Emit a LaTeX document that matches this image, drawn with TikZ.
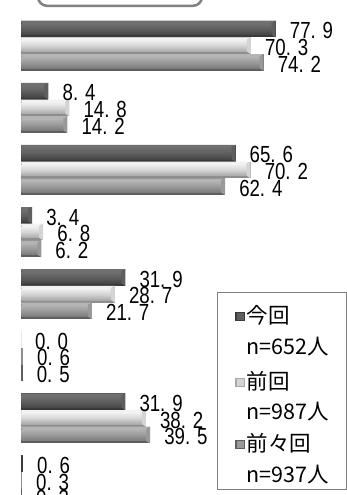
\documentclass[tikz,border=0pt]{standalone}
\usepackage{fontspec}
\setmainfont{Liberation Sans}
\newfontfamily\jp{Noto Sans CJK JP}
\usepackage{graphicx}
\definecolor{aedge}{HTML}{3A3A3A}\definecolor{atop}{HTML}{707070}\definecolor{amid}{HTML}{5E5E5E}\definecolor{abot}{HTML}{454545}
\definecolor{bedge}{HTML}{8E8E8E}\definecolor{btop}{HTML}{F2F2F2}\definecolor{bmid}{HTML}{D4D4D4}\definecolor{bbot}{HTML}{A8A8A8}
\definecolor{cedge}{HTML}{5E5E5E}\definecolor{ctop}{HTML}{B4B4B4}\definecolor{cmid}{HTML}{999999}\definecolor{cbot}{HTML}{7A7A7A}
\definecolor{frame}{HTML}{808080}
\newcommand\mybar[3]{%
  \pgfmathsetmacro\xe{21+3.27*#2}%
  \pgfmathsetmacro\yb{#1+16.7}%
  \fill[#3edge] (21,#1) rectangle (\xe,\yb);
  \pgfmathparse{(\xe>30)?1:0}%
  \ifnum\pgfmathresult=1
    \shade[top color=#3top, bottom color=#3bot, middle color=#3mid] (21.5,#1+2.5) rectangle (\xe-4,\yb-2.5);
    \fill[#3top] (21,#1) -- (\xe,#1) -- (\xe-4,#1+2.5) -- (21.5,#1+2.5) -- cycle;
    \fill[#3mid] (\xe-4,#1+2.5) -- (\xe,#1) -- (\xe,\yb) -- (\xe-4,\yb-2.5) -- cycle;
  \fi
}
\tikzset{lbl/.style={anchor=west, inner sep=0pt, font=\fontsize{23.3}{23.3}\selectfont},
  leg/.style={anchor=west, inner sep=0pt, font=\jp\fontsize{21.5}{21.5}\selectfont}}
\newcommand\lab[1]{\scalebox{0.8}[1]{#1}}
\begin{document}
\begin{tikzpicture}[x=1pt,y=-1pt]
\useasboundingbox (0,0) rectangle (347,495);
\clip (0,0) rectangle (347,495);
\fill[white] (0,0) rectangle (347,495);
% top box
\draw[frame, line width=2.5pt, rounded corners=9pt] (38,-40) rectangle (202,5.8);
% bars
\foreach \g/\a/\b/\c/\la/\lb/\lc in {
  0/77.9/70.3/74.2/77. 9/70. 3/74. 2,
  1/8.4/14.8/14.2/8. 4/14. 8/14. 2,
  2/65.6/70.2/62.4/65. 6/70. 2/62. 4,
  3/3.4/6.8/6.2/3. 4/6. 8/6. 2,
  4/31.9/28.7/21.7/31. 9/28. 7/21. 7,
  5/0.0/0.6/0.5/0. 0/0. 6/0. 5,
  6/31.9/38.2/39.5/31. 9/38. 2/39. 5,
  7/0.6/0.3/0.3/0. 6/0. 3/0. 3}{
  \pgfmathsetmacro\yt{20.7+62.1*\g}
  \mybar{\yt}{\a}{a}
  \mybar{\yt+16.7}{\b}{b}
  \mybar{\yt+33.4}{\c}{c}
  \node[lbl] (v\g a) at (21+3.27*\a+14, \yt+10) {\lab{\la}};
  \node[lbl] (v\g b) at (21+3.27*\b+14, \yt+26.7) {\lab{\lb}};
  \node[lbl] (v\g c) at (21+3.27*\c+14, \yt+43.4) {\lab{\lc}};
}
% legend
\draw[frame, fill=white, line width=0.8pt] (217.5,292.7) rectangle (346.2,489.3);
\fill[aedge] (235,311.5) rectangle (245,321);
\fill[amid] (236.5,313) rectangle (243.5,319.5);
\fill[bbot] (235,377.5) rectangle (245,387);
\fill[bmid] (236.5,379) rectangle (243.5,385.5);
\fill[cedge] (235,439.5) rectangle (245,449);
\fill[cmid] (236.5,441) rectangle (243.5,447.5);
\node[leg] (l1) at (246.5,315.5) {今回};
\node[leg] (l2) at (246.5,347) {n=652人};
\node[leg] (l3) at (246.5,381) {前回};
\node[leg] (l4) at (246.5,412) {n=987人};
\node[leg] (l5) at (246.5,443.5) {前々回};
\node[leg] (l6) at (246.5,474.5) {n=937人};
\end{tikzpicture}
\end{document}
